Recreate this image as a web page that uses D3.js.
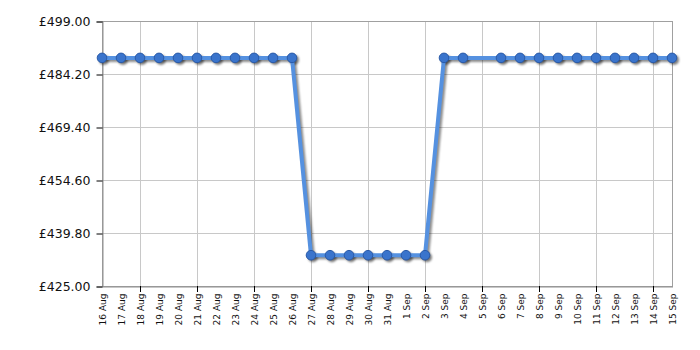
<!DOCTYPE html>
<html><head><meta charset="utf-8">
<script src="https://cdn.jsdelivr.net/npm/d3@7"></script>
<style>body{margin:0;background:#fff}svg{display:block}</style>
</head><body><svg id="c" width="700" height="350"></svg>
<script>
const dates = ["16 Aug","17 Aug","18 Aug","19 Aug","20 Aug","21 Aug","22 Aug","23 Aug","24 Aug","25 Aug","26 Aug","27 Aug","28 Aug","29 Aug","30 Aug","31 Aug","1 Sep","2 Sep","3 Sep","4 Sep","5 Sep","6 Sep","7 Sep","8 Sep","9 Sep","10 Sep","11 Sep","12 Sep","13 Sep","14 Sep","15 Sep"];
const prices = [488.7,488.7,488.7,488.7,488.7,488.7,488.7,488.7,488.7,488.7,488.7,433.6,433.6,433.6,433.6,433.6,433.6,433.6,488.7,488.7,null,488.7,488.7,488.7,488.7,488.7,488.7,488.7,488.7,488.7,488.7];
const yTicks = [425.00,439.80,454.60,469.40,484.20,499.00];
const gridDates = ["16 Aug","18 Aug","21 Aug","24 Aug","27 Aug","30 Aug","2 Sep","5 Sep","8 Sep","11 Sep","14 Sep"];

const L=102,R=672,T=21,B=286;
const svg=d3.select("#c");
const defs=svg.append("defs");
defs.append("filter").attr("id","blur").attr("x","-20%").attr("y","-20%").attr("width","140%").attr("height","140%")
 .append("feGaussianBlur").attr("stdDeviation",1.2);
const x=d3.scalePoint().domain(dates).range([L,R]);
const y=d3.scaleLinear().domain([425,499]).range([B,T]);

// grid
svg.append("g").selectAll("line").data(yTicks).join("line")
 .attr("x1",L).attr("x2",R).attr("y1",d=>y(d)+0.5).attr("y2",d=>y(d)+0.5)
 .attr("stroke","#c8c8c8").attr("stroke-width",1);
svg.append("g").selectAll("line").data(gridDates).join("line")
 .attr("y1",T).attr("y2",B).attr("x1",d=>Math.round(x(d))+0.5).attr("x2",d=>Math.round(x(d))+0.5)
 .attr("stroke","#c8c8c8").attr("stroke-width",1);
// frame
svg.append("rect").attr("x",L+0.5).attr("y",T+0.5).attr("width",R-L).attr("height",B-T)
 .attr("fill","none").attr("stroke","#a0a0a0");

// y axis
const ya=svg.append("g").attr("transform",`translate(${L+0.5},0.5)`)
 .call(d3.axisLeft(y).tickValues(yTicks).tickSize(6).tickPadding(6).tickFormat(d=>"£"+d.toFixed(2)));
ya.select(".domain").attr("stroke","#909090");
ya.selectAll(".tick line").attr("stroke","#000");
ya.selectAll("text").attr("font-family","DejaVu Sans, Verdana, sans-serif").attr("font-size",12.5).attr("fill","#111");

// x axis
const xa=svg.append("g").attr("transform",`translate(0.5,${B+0.5})`)
 .call(d3.axisBottom(x).tickSize(0).tickPadding(0));
xa.select(".domain").attr("stroke","#909090");
xa.selectAll(".tick text").attr("font-family","DejaVu Sans, Verdana, sans-serif").attr("font-size",9).attr("fill","#111")
 .attr("text-anchor","end").attr("transform","translate(3,7) rotate(-90)").attr("dy",0).attr("y",0).attr("x",0);
svg.append("g").selectAll("line").data(gridDates.slice(1)).join("line")
 .attr("x1",d=>Math.round(x(d))+0.5).attr("x2",d=>Math.round(x(d))+0.5).attr("y1",B).attr("y2",B+6)
 .attr("stroke","#000");

const pts=dates.map((d,i)=>({d,v:prices[i]})).filter(p=>p.v!==null);
const line=d3.line().x(p=>x(p.d)).y(p=>y(p.v));
// shadow
const sh=svg.append("g").attr("filter","url(#blur)").attr("transform","translate(2,2)");
sh.append("path").datum(pts).attr("d",line).attr("fill","none").attr("stroke","rgba(0,0,0,0.45)")
 .attr("stroke-width",4).attr("stroke-linejoin","round");
sh.selectAll("circle").data(pts).join("circle")
 .attr("cx",p=>x(p.d)).attr("cy",p=>y(p.v)).attr("r",5).attr("fill","rgba(0,0,0,0.5)");
svg.append("path").datum(pts).attr("d",line).attr("fill","none").attr("stroke","#5591e0")
 .attr("stroke-width",4).attr("stroke-linejoin","round");
svg.append("g").selectAll("circle").data(pts).join("circle")
 .attr("cx",p=>x(p.d)).attr("cy",p=>y(p.v)).attr("r",4.8).attr("fill","#3a74cc").attr("stroke","#2a5aa8").attr("stroke-width",1);
</script></body></html>
